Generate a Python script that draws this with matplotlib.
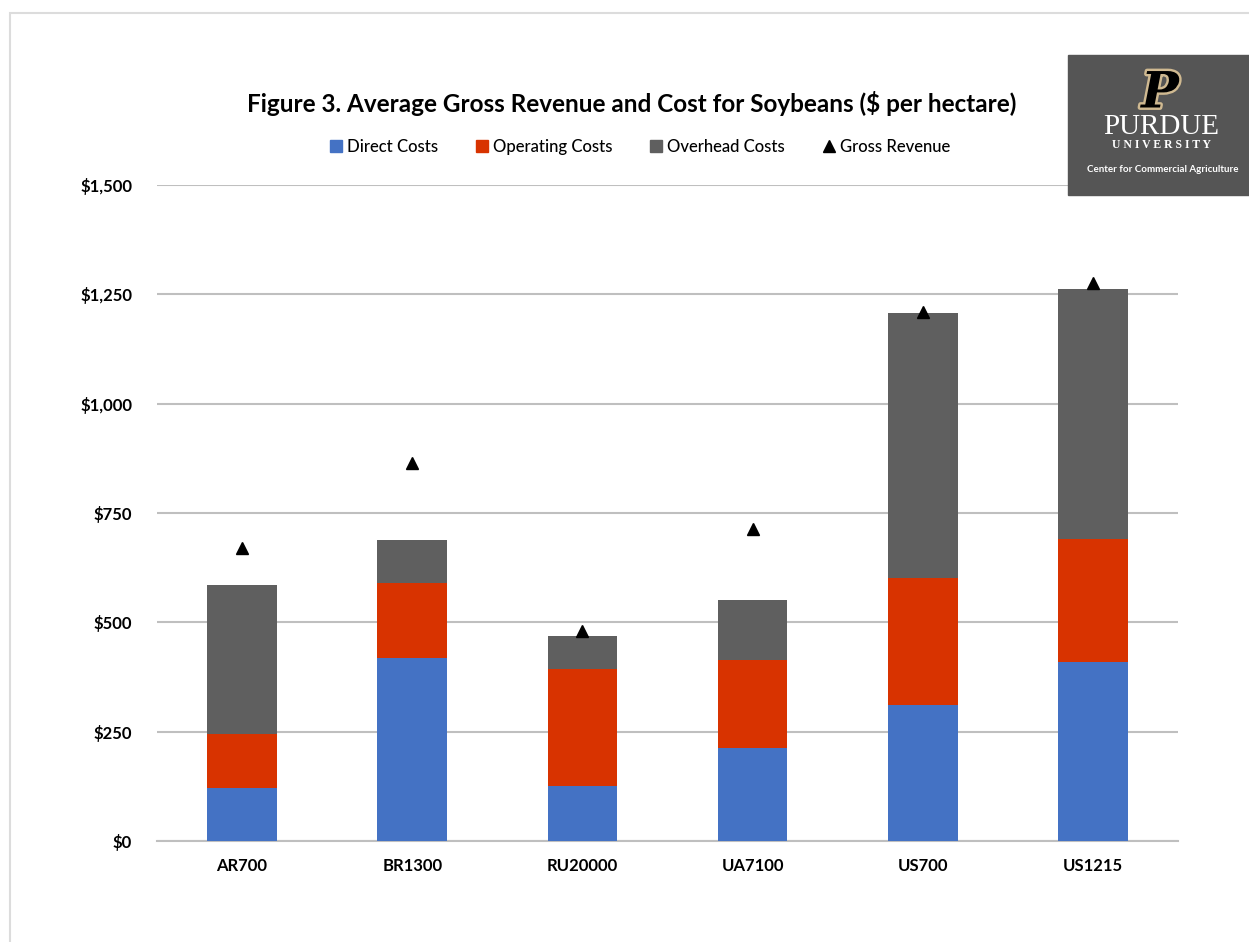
import matplotlib.pyplot as plt
import matplotlib.patheffects as pe
from matplotlib.patches import Rectangle, Patch
from matplotlib.lines import Line2D
import numpy as np

plt.rcParams['font.family'] = ['Lato', 'DejaVu Sans']

regions = ['AR700', 'BR1300', 'RU20000', 'UA7100', 'US700', 'US1215']
direct = [121, 418, 126, 213, 311, 409]
operating = [124, 172, 267, 201, 290, 282]
overhead = [340, 98, 76, 137, 606, 571]
gross = [670, 865, 480, 713, 1210, 1276]
yticks = [0, 250, 500, 750, 1000, 1250, 1500]

c_direct = '#4472C4'
c_oper = '#D83300'
c_over = '#5F5F5F'

fig = plt.figure(figsize=(12.49, 9.42), dpi=100)

# light frame round the chart (bottom and right edges run off the image)
fig.patches.append(Rectangle((10 / 1249, -0.1), 1.2, 1.1 - 13 / 942, transform=fig.transFigure,
                             fill=False, edgecolor='#DCDCDC', lw=1.5))

ax = fig.add_axes([157 / 1249, 101 / 942, 1021 / 1249, 656 / 942])
x = np.arange(len(regions))
w = 0.41
b1 = np.array(direct)
b2 = b1 + np.array(operating)
ax.bar(x, direct, w, color=c_direct, zorder=3)
ax.bar(x, operating, w, bottom=b1, color=c_oper, zorder=3)
ax.bar(x, overhead, w, bottom=b2, color=c_over, zorder=3)
ax.plot(x, gross, linestyle='none', marker='^', color='black', markersize=8, zorder=4, clip_on=False)

ax.set_xlim(-0.5, len(regions) - 0.5)
ax.set_ylim(0, 1500)
ax.set_yticks(yticks)
ax.set_yticklabels([f'${v:,}' for v in yticks], fontsize=12, fontweight='bold')
ax.set_xticks(x)
ax.set_xticklabels(regions, fontsize=12, fontweight='bold')
ax.tick_params(length=0, pad=18, axis='y')
ax.tick_params(length=0, pad=12, axis='x')
ax.grid(axis='y', color='#BFBFBF', lw=1.5, zorder=0)
for s in ['top', 'right', 'left']:
    ax.spines[s].set_visible(False)
ax.spines['bottom'].set_color('#BFBFBF')
ax.spines['bottom'].set_linewidth(1.5)

fig.text(632 / 1249, 1 - 103 / 942, 'Figure 3. Average Gross Revenue and Cost for Soybeans ($ per hectare)',
         ha='center', va='center', fontsize=17.5, fontweight='bold')

handles = [Patch(color=c_direct), Patch(color=c_oper), Patch(color=c_over),
           Line2D([], [], linestyle='none', marker='^', color='black', markersize=8)]
labels = ['Direct Costs', 'Operating Costs', 'Overhead Costs', 'Gross Revenue']
fig.legend(handles, labels, loc='center', bbox_to_anchor=(640 / 1249, 1 - 147 / 942), ncol=4,
           frameon=False, fontsize=12, handlelength=0.7, handleheight=0.7, handletextpad=0.3,
           columnspacing=2.3, prop={'size': 12, 'weight': 'medium'})

# Purdue logo block
fig.patches.append(Rectangle((1068 / 1249, 1 - 195 / 942), 190 / 1249, 140 / 942,
                             transform=fig.transFigure, color='#555555', zorder=5))
fig.text(1160 / 1249, 1 - 94 / 942, 'P', ha='center', va='center', fontsize=36, fontweight='bold',
         family='DejaVu Serif', style='italic', color='black', zorder=6,
         path_effects=[pe.withStroke(linewidth=3.5, foreground='#CFB991')])
fig.text(1161 / 1249, 1 - 127 / 942, 'PURDUE', ha='center', va='center', fontsize=21,
         family='Liberation Serif', color='white', zorder=6)
fig.text(1162 / 1249, 1 - 145 / 942, 'U N I V E R S I T Y', ha='center', va='center', fontsize=8.5,
         fontweight='bold', family='Liberation Serif', color='white', zorder=6)
fig.text(1163 / 1249, 1 - 170 / 942, 'Center for Commercial Agriculture', ha='center', va='center',
         fontsize=7, fontweight='bold', color='white', zorder=6)

fig.savefig('out.png', dpi=100)
